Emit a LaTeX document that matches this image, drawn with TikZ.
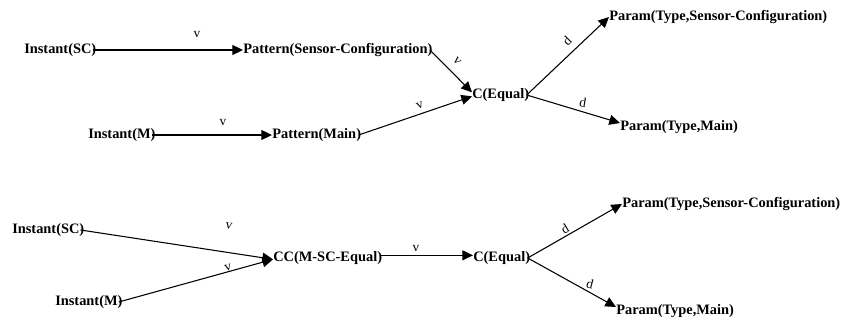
\documentclass[tikz,border=0pt]{standalone}
\usepackage{fontspec}
\setmainfont{Liberation Serif}
\usetikzlibrary{arrows.meta}
\begin{document}
\begin{tikzpicture}[x=0.75pt,y=-0.75pt,
  term/.style={anchor=west,inner sep=0pt,font=\fontsize{10.8}{12}\selectfont\bfseries},
  rel/.style={draw=black,line width=0.8pt,-{Triangle[length=8pt,width=7.5pt]}},
  lbl/.style={inner sep=0pt,font=\fontsize{10}{11}\selectfont}]
\useasboundingbox (0,0) rectangle (843,320);

% ---- first graph: two patterns compared ----
\node[term] (isc)  at (24,50)   {Instant(SC)};
\node[term] (psc)  at (243,50)  {Pattern(Sensor-Configuration)};
\node[term] (im)   at (88,135)  {Instant(M)};
\node[term] (pm)   at (272,135) {Pattern(Main)};
\node[term] (ceq)  at (472,95)  {C(Equal)};
\node[term] (ptsc) at (609,17)  {Param(Type,Sensor-Configuration)};
\node[term] (ptm)  at (620,127) {Param(Type,Main)};

\draw[rel] ([xshift=-3pt]isc.east) -- (psc.west);
\draw[rel] ([xshift=-3pt]im.east) -- (pm.west);
\draw[rel] ([xshift=-2pt]psc.east) -- ([yshift=2pt]ceq.west);
\draw[rel] ([xshift=-2pt]pm.east) -- ([yshift=-1pt]ceq.west);
\draw[rel] ([xshift=-2pt]ceq.east) -- (ptsc.west);
\draw[rel] ([xshift=-2pt]ceq.east) -- ([yshift=3pt]ptm.west);

\node[lbl] (l1) at (197,35)  {v};
\node[lbl] (l2) at (223,123) {v};
\node[lbl,rotate=-50] (l3) at (457,61) {v};
\node[lbl,rotate=21] (l4) at (420,106) {v};
\node[lbl,rotate=45] (l5) at (567,41) {d};
\node[lbl,rotate=-10] (l6) at (583,103) {d};

% ---- second graph: composite comparison ----
\node[term] (isc2) at (12,230)  {Instant(SC)};
\node[term] (im2)  at (55,302)  {Instant(M)};
\node[term] (cc)   at (273,258) {CC(M-SC-Equal)};
\node[term] (ceq2) at (473,258) {C(Equal)};
\node[term] (ptsc2) at (622,204) {Param(Type,Sensor-Configuration)};
\node[term] (ptm2) at (616,311) {Param(Type,Main)};

\draw[rel] ([xshift=-3pt]isc2.east) -- ([yshift=-1pt]cc.west);
\draw[rel] ([xshift=-3pt]im2.east) -- ([yshift=-1pt]cc.west);
\draw[rel] ([xshift=-2pt,yshift=2pt]cc.east) -- ([yshift=2pt]ceq2.west);
\draw[rel] ([xshift=-2pt]ceq2.east) -- (ptsc2.west);
\draw[rel] ([xshift=-2pt]ceq2.east) -- ([yshift=3pt]ptm2.west);

\node[lbl,rotate=-9] (l7) at (229,226) {v};
\node[lbl,rotate=15] (l8) at (228,268) {v};
\node[lbl] (l9) at (416,249) {v};
\node[lbl,rotate=31] (l10) at (565,229) {d};
\node[lbl,rotate=-15] (l11) at (590,284) {d};
\end{tikzpicture}
\end{document}
